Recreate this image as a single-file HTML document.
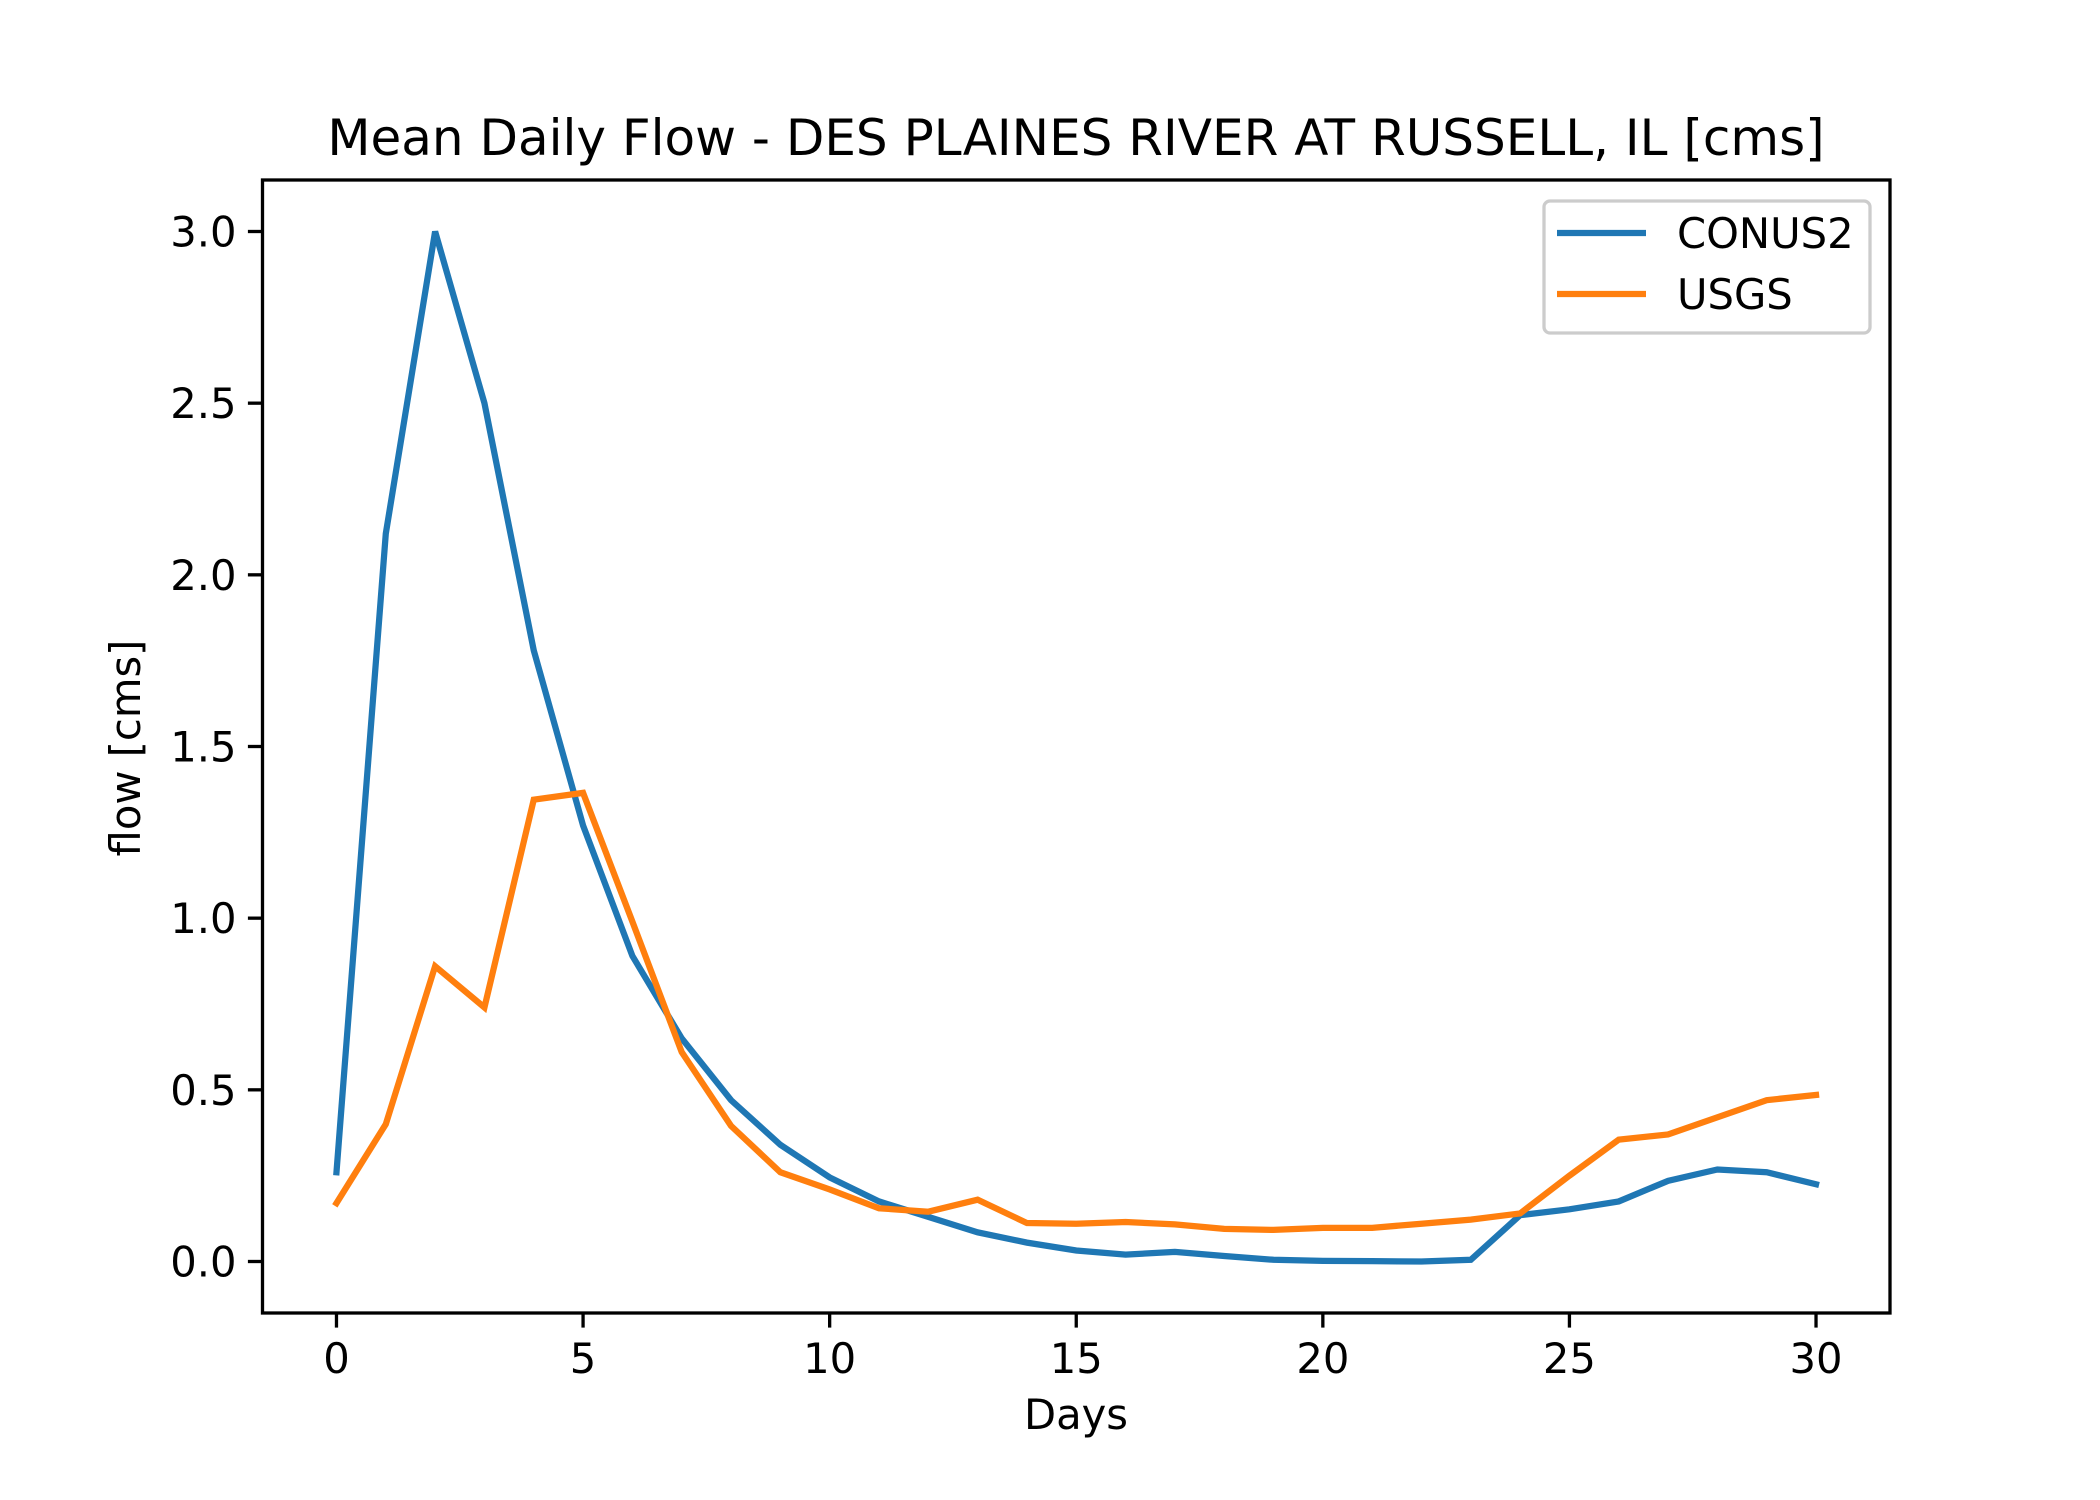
<!DOCTYPE html>
<html><head><meta charset="utf-8"><style>
html,body{margin:0;padding:0;background:#fff;}
svg{display:block;font-family:"DejaVu Sans","Liberation Sans",sans-serif;}
</style></head><body>
<svg id="chart" width="2100" height="1500" viewBox="0 0 2100 1500" xmlns="http://www.w3.org/2000/svg">
<rect width="2100" height="1500" fill="#fff"/>
<text x="1076" y="155" font-size="50" text-anchor="middle">Mean Daily Flow - DES PLAINES RIVER AT RUSSELL, IL [cms]</text>
<g id="plot"></g>
<text x="1076" y="1429" font-size="41.7" text-anchor="middle">Days</text>
<text transform="translate(140,748) rotate(-90)" font-size="41.7" text-anchor="middle">flow [cms]</text>
</svg>
<script>
const days = [0,1,2,3,4,5,6,7,8,9,10,11,12,13,14,15,16,17,18,19,20,21,22,23,24,25,26,27,28,29,30];
const conus2 = [0.26,2.12,3.0,2.5,1.78,1.27,0.89,0.65,0.47,0.34,0.245,0.175,0.13,0.085,0.055,0.032,0.02,0.028,0.016,0.005,0.002,0.001,0.0,0.005,0.135,0.152,0.175,0.235,0.268,0.26,0.225];
const usgs = [0.17,0.4,0.86,0.74,1.345,1.365,0.99,0.61,0.395,0.26,0.21,0.155,0.145,0.18,0.112,0.11,0.115,0.108,0.095,0.092,0.098,0.098,0.11,0.122,0.14,0.25,0.355,0.37,0.42,0.47,0.485];
const xTicks = [0,5,10,15,20,25,30];
const yTicks = [0.0,0.5,1.0,1.5,2.0,2.5,3.0];
const yTickLabels = ["0.0","0.5","1.0","1.5","2.0","2.5","3.0"];

const L=262.5,R=1890,T=180,B=1313;
const xmin=-1.5,xmax=31.5,ymin=-0.15,ymax=3.15;
function xs(v){return L+(v-xmin)/(xmax-xmin)*(R-L);}
function ys(v){return B-(v-ymin)/(ymax-ymin)*(B-T);}
const NS="http://www.w3.org/2000/svg";
const g=document.getElementById('plot');
function mk(tag,attrs){const e=document.createElementNS(NS,tag);for(const k in attrs)e.setAttribute(k,attrs[k]);g.appendChild(e);return e;}

function series(arr,color,name){
  const p=mk('polyline',{points:days.map((d,i)=>xs(d)+','+ys(arr[i])).join(' '),fill:'none',stroke:color,'stroke-width':6.25,'stroke-linejoin':'miter','stroke-linecap':'square'});
  
  
}
series(conus2,'#1f77b4','conus2-line');
series(usgs,'#ff7f0e','usgs-line');

xTicks.forEach(t=>{
  const l=mk('line',{x1:xs(t),x2:xs(t),y1:B,y2:B+14.6,stroke:'#000','stroke-width':3.3});
  
  
  const tx=mk('text',{x:xs(t),y:B+60,'font-size':41.7,'text-anchor':'middle'});
  tx.textContent=t;
  
  
});
yTicks.forEach((t,i)=>{
  const l=mk('line',{x1:L-14.6,x2:L,y1:ys(t),y2:ys(t),stroke:'#000','stroke-width':3.3});
  
  
  const tx=mk('text',{x:L-26,y:ys(t)+15,'font-size':41.7,'text-anchor':'end'});
  tx.textContent=yTickLabels[i];
  
  
});
const frame=mk('rect',{x:L,y:T,width:R-L,height:B-T,fill:'none',stroke:'#000','stroke-width':3.3});



// legend
const lg=mk('rect',{x:1544,y:201,width:326,height:132,rx:6,fill:'#fff','fill-opacity':0.8,stroke:'#ccc','stroke-width':3.3});


const entries=[['CONUS2','#1f77b4',233],['USGS','#ff7f0e',294]];
entries.forEach(e=>{
  const l=mk('line',{x1:1557,x2:1646,y1:e[2],y2:e[2],stroke:e[1],'stroke-width':6.25});
  
  
  const tx=mk('text',{x:1677,y:e[2]+15,'font-size':41.7});
  tx.textContent=e[0];
  
  
});
</script>
</body></html>
